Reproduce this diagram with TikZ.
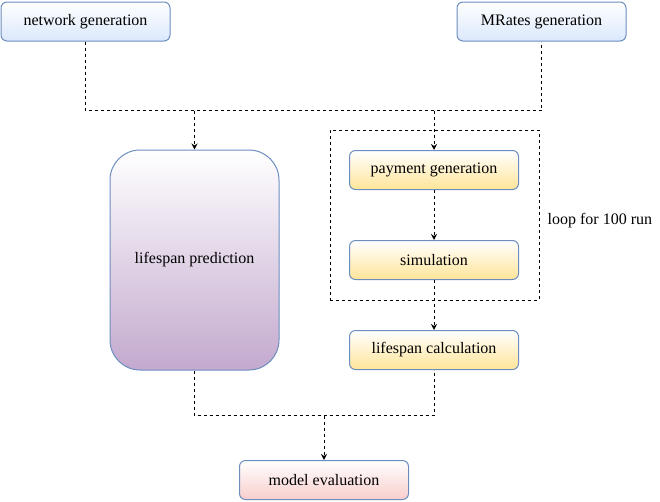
\documentclass[tikz,border=0pt]{standalone}
\usepackage{fontspec}
\setmainfont{Liberation Serif}
\usetikzlibrary{arrows.meta,calc}
\tikzset {>={Stealth[length=6pt,width=6pt]}}
\definecolor{blueedge}{HTML}{6C8EBF}
\definecolor{bluefill}{HTML}{DAE8FC}
\definecolor{yellowfill}{HTML}{FFE599}
\definecolor{purplefill}{HTML}{C3A9CE}
\definecolor{redfill}{HTML}{F8CECC}

\begin{document}
\begin{tikzpicture}[x=1pt,y=-1pt,
  box/.style={draw=blueedge,line width=1pt,rounded corners=6pt,
    minimum width=169pt,minimum height=39pt,inner sep=0pt,
    font=\fontsize{16}{18}\selectfont},
  bluebox/.style={box,top color=white,bottom color=bluefill},
  yellowbox/.style={box,top color=white,bottom color=yellowfill},
  link/.style={line width=1pt,dash pattern=on 3pt off 3pt}]
\useasboundingbox (0,0) rectangle (660,501);

% inputs
\node[bluebox] (netgen) at (85.5,21.5) {network generation};
\node[bluebox] (mrates) at (541.5,21.5) {MRates generation};

% prediction branch
\node[box,rounded corners=30pt,minimum height=220pt,
  top color=white,bottom color=purplefill] (pred) at (194.5,260) {lifespan prediction};

% simulation branch
\node[yellowbox] (paygen) at (434,170) {payment generation};
\node[yellowbox] (sim) at (434,260) {simulation};
\node[yellowbox] (calc) at (434,350) {lifespan calculation};
\node[draw,link,minimum width=209pt,minimum height=170pt] (loop) at (434.5,215) {};
\node[anchor=west,inner sep=0pt,font=\fontsize{16}{18}\selectfont]
  (looplabel) at ($(loop.east)+(8,6)$) {loop for 100 run};

\node[box,top color=white,bottom color=redfill] (eval) at (324,480) {model evaluation};

\draw[link] (netgen.south) -- ++(0,69) coordinate (top) -| (mrates.south);
\draw[link,->] (top -| pred.north) -- (pred.north);
\draw[link,->] (top -| paygen.north) -- (paygen.north);
\draw[link,->] (paygen) -- (sim);
\draw[link,->] (sim) -- (calc);

\draw[link] (pred.south) -- ++(0,45) coordinate (bottom) -| (calc.south);
\draw[link,->] (bottom -| eval.north) -- (eval.north);
\end{tikzpicture}
\end{document}
